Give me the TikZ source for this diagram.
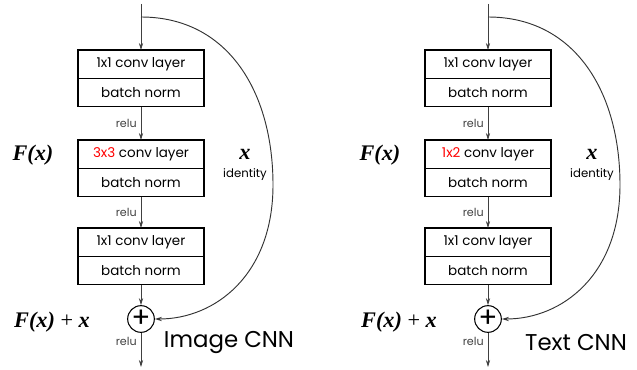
\documentclass[tikz,border=0pt]{standalone}
\usepackage{fontspec}
\setmainfont{Poppins}
\newfontfamily\timesfont{Liberation Serif}
\usetikzlibrary{positioning,arrows.meta}

\tikzset{
  layer/.style={draw, line width=1pt, outer sep=0pt, inner sep=0pt,
    minimum width=3.78cm, minimum height=0.85cm, font=\fontsize{11.5}{13}\selectfont},
  flow/.style={-{Stealth[length=6pt,width=3.6pt]}, line width=0.6pt, black!75},
  skip/.style={-{Stealth[length=6pt,width=3.6pt]}, line width=0.8pt, black!80},
  small/.style={font=\fontsize{9.5}{11}\selectfont},
  eqn/.style={font=\timesfont\fontsize{19}{22}\selectfont},
}

\begin{document}
\begin{tikzpicture}[x=0.03cm,y=-0.03cm]
  \useasboundingbox (0,0) rectangle (637,370);

  \foreach \dx/\k/\ksize/\ttl in {0/l/3x3/Image CNN, 347/r/1x2/Text CNN}{
  \begin{scope}[xshift=\dx*0.03cm]
    \coordinate (\k-in) at (141,4);
    \coordinate (\k-split) at (141,17);
    \coordinate (\k-out) at (141,367);

    % three conv + bn blocks
    \node[layer] (\k-conv1) at (141,64.2) {1x1 conv layer};
    \node[layer, below=0pt of \k-conv1] (\k-bn1) {batch norm};
    \node[layer] (\k-conv2) at (141,154.2) {\textcolor{red}{\ksize} conv layer};
    \node[layer, below=0pt of \k-conv2] (\k-bn2) {batch norm};
    \node[layer] (\k-conv3) at (141,242.2) {1x1 conv layer};
    \node[layer, below=0pt of \k-conv3] (\k-bn3) {batch norm};
    \node[draw, circle, line width=0.9pt, minimum size=0.8cm, inner sep=0pt,
      font=\fontsize{24}{24}\selectfont] (\k-plus) at (141,319) {+};

    \draw[flow] (\k-in) -- (\k-conv1);
    \draw[flow] (\k-bn1) -- node[small,left]{relu} (\k-conv2);
    \draw[flow] (\k-bn2) -- node[small,left]{relu} (\k-conv3);
    \draw[flow] (\k-bn3) -- (\k-plus);
    \draw[flow] (\k-plus) -- node[small,left,pos=0.25]{relu} (\k-out);

    % identity shortcut
    \draw[skip] (\k-split) .. controls (228,17) and (273,92) .. (273,185)
      .. controls (273,275) and (215,319) .. (\k-plus.east);

    \node[eqn] (\k-fx) at (33,155) {\textbf{\textit{F(x)}}};
    \node[eqn] (\k-fxx) at (52,322) {\textbf{\textit{F(x)}} + \textbf{\textit{x}}};
    \node[eqn] (\k-x) at (245,154) {\textbf{\textit{x}}};
    \node[small, font=\fontsize{10}{12}\selectfont] (\k-id) at (245,175) {identity};
    \node[font=\fontsize{19.5}{22}\selectfont] (\k-title) at (229,343) {\ttl};
  \end{scope}
  }
\end{tikzpicture}
\end{document}
